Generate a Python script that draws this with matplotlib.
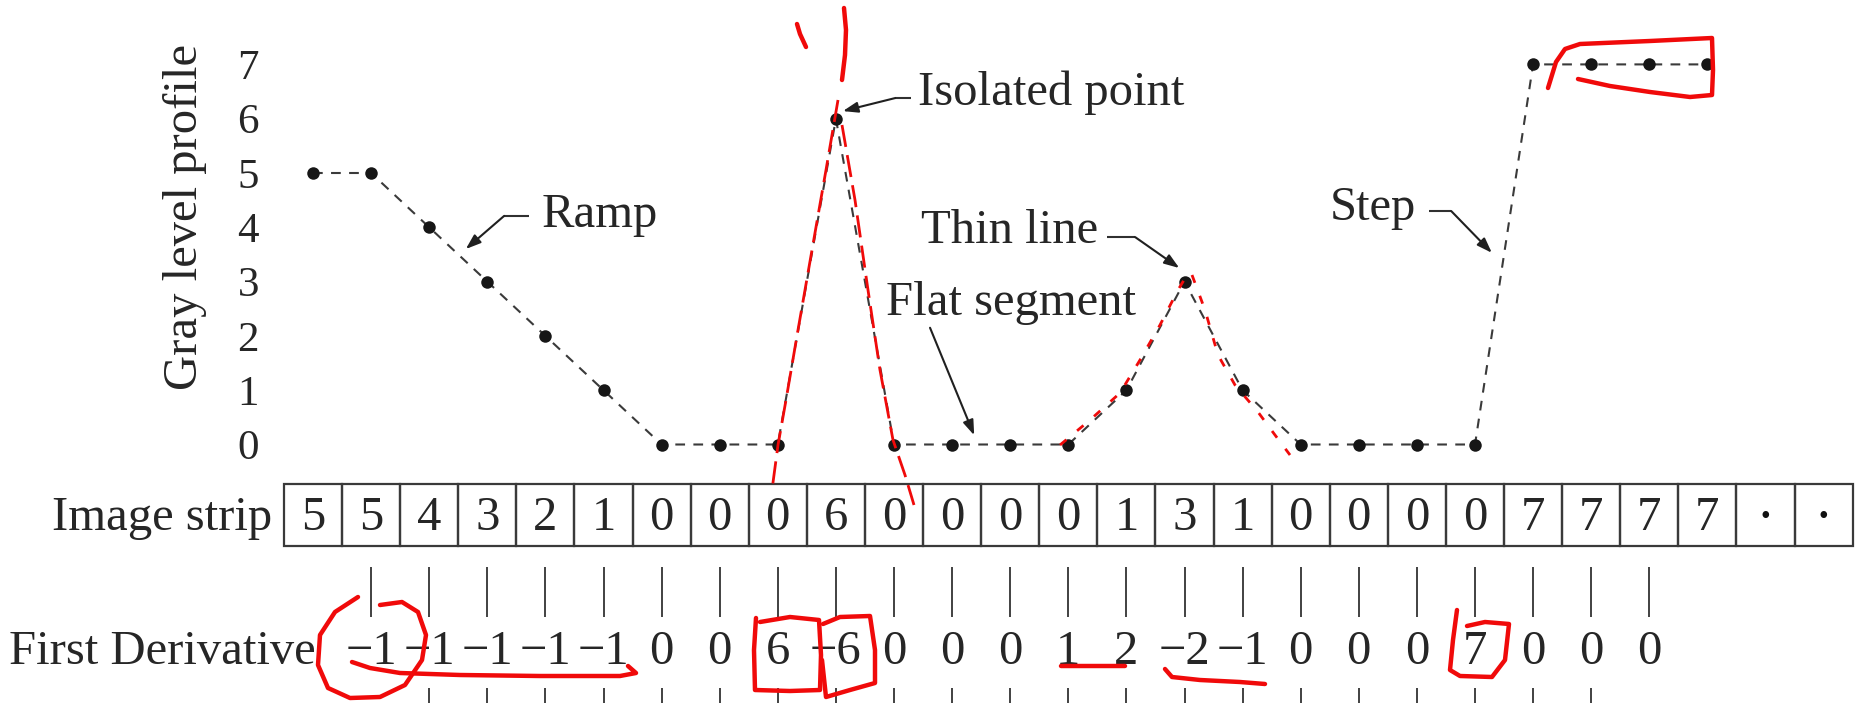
import matplotlib
matplotlib.use("Agg")
import matplotlib.pyplot as plt
from matplotlib.patches import Rectangle

plt.rcParams['font.family'] = ['Liberation Serif', 'DejaVu Serif']
plt.rcParams['lines.scale_dashes'] = False

# ---- data -------------------------------------------------------------
profile = [5, 5, 4, 3, 2, 1, 0, 0, 0, 6, 0, 0, 0, 0, 1, 3, 1, 0, 0, 0, 0, 7, 7, 7, 7]
strip_cells = ['5', '5', '4', '3', '2', '1', '0', '0', '0', '6', '0', '0', '0', '0',
               '1', '3', '1', '0', '0', '0', '0', '7', '7', '7', '7', '\u2022', '\u2022']
deriv_start = 1
first_derivative = [-1, -1, -1, -1, -1, 0, 0, 6, -6, 0, 0, 0, 1, 2, -2, -1, 0, 0, 0, 7, 0, 0, 0]
gray_ticks = list(range(8))

# callouts: text, text anchor (x, baseline), elbow start, elbow end, arrow tip
callouts = [
    ("Ramp",           (3.94, 4.00),  (3.72, 4.21),  (3.29, 4.21),  (2.63, 3.60)),
    ("Isolated point", (10.42, 6.25), (10.30, 6.38), (10.02, 6.38), (9.12, 6.14)),
    ("Thin line",      (10.46, 3.71), (13.67, 3.82), (14.15, 3.82), (14.91, 3.25)),
    ("Flat segment",   (9.86, 2.39),  None,          (10.62, 2.15), (11.38, 0.17)),
    ("Step",           (17.50, 4.13), (19.21, 4.30), (19.59, 4.30), (20.29, 3.53)),
]

# pen strokes drawn over the figure (pixel space, origin top-left)
pen_strokes = [
    ([(844, 8), (846, 30), (845, 55), (842, 80)], 'solid'),
    ([(797, 24), (800, 34), (806, 47)], 'solid'),
    ([(838, 100), (826, 170), (812, 250), (798, 330), (786, 400), (778, 445), (772, 490)], 'dashed'),
    ([(842, 125), (855, 200), (868, 290), (880, 370), (893, 440), (905, 475), (914, 505)], 'dashed'),
    ([(1060, 445), (1090, 420), (1120, 393), (1140, 360), (1160, 325), (1178, 290), (1190, 270)], 'dotted'),
    ([(1192, 275), (1205, 310), (1218, 355), (1235, 385), (1258, 412), (1275, 435), (1290, 455)], 'dotted'),
    ([(1548, 88), (1556, 62), (1565, 49), (1580, 44), (1650, 41), (1712, 38), (1713, 70),
      (1712, 95), (1690, 97), (1650, 92), (1610, 86), (1578, 79)], 'solid'),
    ([(358, 597), (335, 612), (320, 635), (318, 665), (328, 688), (350, 698), (380, 697),
      (405, 685), (422, 660), (426, 635), (418, 612), (402, 602), (380, 605)], 'solid'),
    ([(352, 662), (370, 668), (400, 673), (460, 675), (540, 676), (620, 676), (636, 673), (628, 666)], 'solid'),
    ([(760, 622), (790, 617), (819, 620), (821, 655), (820, 690), (790, 691), (755, 690),
      (754, 650), (756, 618)], 'solid'),
    ([(823, 624), (840, 617), (870, 616), (875, 650), (875, 683), (850, 690), (826, 697), (822, 660)], 'solid'),
    ([(1061, 666), (1125, 666)], 'solid'),
    ([(1165, 669), (1172, 677), (1200, 680), (1240, 682), (1265, 684)], 'solid'),
    ([(1467, 626), (1485, 622), (1509, 624), (1505, 660), (1492, 677), (1460, 676),
      (1450, 670), (1453, 640), (1457, 610)], 'solid'),
]

# ---- layout -----------------------------------------------------------
W, H = 1855, 703
X0, DX = 313.0, 58.1      # pixel x of sample 0, pixels per sample
Y0, DY = 444.5, 54.3      # pixel y of gray level 0, pixels per level
TXT = '#262626'
FS = 35

fig = plt.figure(figsize=(W / 100, H / 100), dpi=100)
left_px = 270
ax = fig.add_axes([left_px / W, 0, (W - left_px) / W, 1])
ax.set_xlim((left_px - X0) / DX, (W - X0) / DX)
ax.set_ylim((Y0 - H) / DY, Y0 / DY)
for s in ax.spines.values():
    s.set_visible(False)
ax.set_xticks([])
ax.set_yticks(gray_ticks)
ax.set_yticklabels([str(t) for t in gray_ticks])
ax.tick_params(axis='y', length=0, pad=8, labelsize=31, labelcolor=TXT)
ax.set_ylabel("Gray level profile", fontsize=FS, color=TXT)
y_lo, y_hi = ax.get_ylim()
ax.yaxis.set_label_coords((207 - left_px) / (W - left_px),
                          ((Y0 - 217) / DY - y_lo) / (y_hi - y_lo))


def v(py):
    return (Y0 - py) / DY


# profile
xs = list(range(len(profile)))
ax.plot(xs, profile, color='#3a3a3a', lw=1.5, linestyle='--', dashes=(7, 6), zorder=2)
ax.plot(xs, profile, linestyle='none', marker='o', markersize=9,
        markerfacecolor='#161616', markeredgewidth=0, zorder=3)

# callouts
for label, (tx, ty), p0, p1, tip in callouts:
    ax.text(tx, ty, label, fontsize=FS, color=TXT, ha='left', va='baseline')
    if p0 is not None:
        ax.plot([p0[0], p1[0]], [p0[1], p1[1]], color='#303030', lw=1.5, solid_capstyle='butt')
    ax.annotate('', xy=tip, xytext=p1,
                arrowprops=dict(arrowstyle='-|>,head_length=0.9,head_width=0.32',
                                color='#202020', lw=1.5, shrinkA=0, shrinkB=0))

# image strip
s_top, s_bot = v(484), v(546)
for i, c in enumerate(strip_cells):
    ax.add_patch(Rectangle((i - 0.5, s_bot), 1, s_top - s_bot, fill=False,
                           edgecolor='#3a3a3a', lw=1.6, clip_on=False))
    if c == '\u2022':
        ax.text(i, v(517), c, fontsize=20, color='#111111', ha='center', va='center')
    else:
        ax.text(i, v(530), c, fontsize=FS, color=TXT, ha='center', va='baseline')
ax.text((272 - X0) / DX, v(530), "Image strip", fontsize=FS, color=TXT,
        ha='right', va='baseline', clip_on=False)

# first derivative row
d_idx = [deriv_start + k for k in range(len(first_derivative))]
ax.vlines(d_idx, v(617), v(567), color='#333333', lw=1.3)
ax.vlines(d_idx[1:-1], v(H + 5), v(688), color='#333333', lw=1.3)
for i, d in zip(d_idx, first_derivative):
    lab = str(d) if d >= 0 else '\u2212' + str(-d)
    ax.text(i, v(664), lab, fontsize=FS, color=TXT, ha='center', va='baseline')
ax.text((316 - X0) / DX, v(664), "First Derivative", fontsize=FS, color=TXT,
        ha='right', va='baseline')

# pen strokes overlay
ov = fig.add_axes([0, 0, 1, 1], facecolor='none')
ov.set_xlim(0, W)
ov.set_ylim(H, 0)
ov.axis('off')
styles = {'solid': ('-', 3.2), 'dashed': ((0, (16, 6)), 2.0), 'dotted': ((0, (6, 10)), 2.0)}
for pts, st in pen_strokes:
    px = [p[0] for p in pts]
    py = [p[1] for p in pts]
    ls, lw = styles[st]
    ov.plot(px, py, color='#f00a0a', lw=lw, linestyle=ls,
            solid_capstyle='round', solid_joinstyle='round')

fig.savefig("out.png", dpi=100, facecolor='white')
